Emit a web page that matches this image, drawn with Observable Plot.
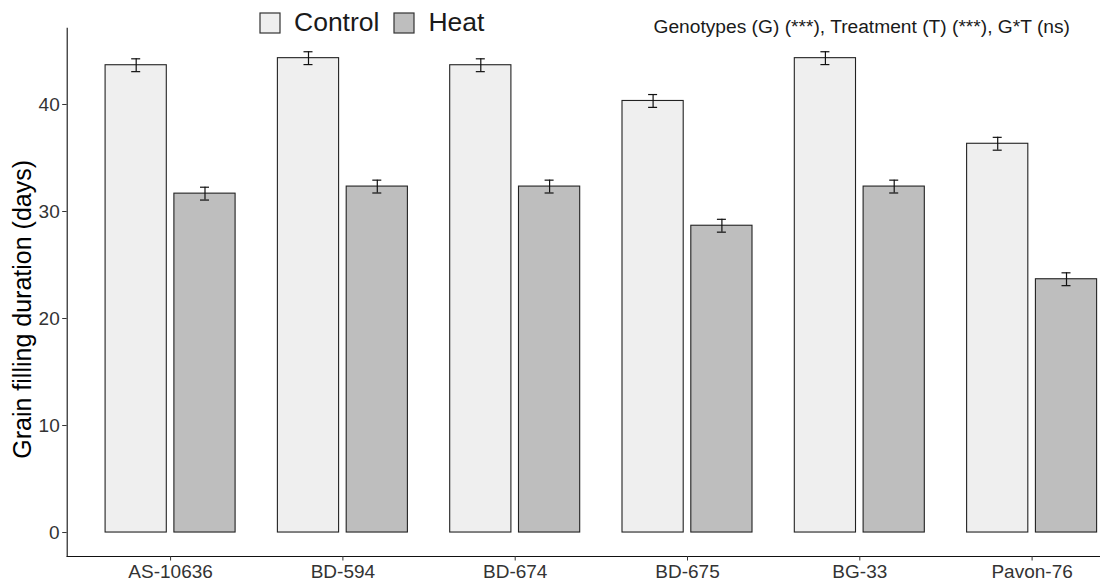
<!DOCTYPE html>
<html>
<head>
<meta charset="utf-8">
<script src="https://cdn.jsdelivr.net/npm/d3@7"></script>
<script src="https://cdn.jsdelivr.net/npm/@observablehq/plot@0.6"></script>
<style>
  html, body { margin: 0; padding: 0; background: #fff; overflow: hidden; }
  #wrap { position: relative; width: 1100px; height: 586px; font-family: "Liberation Sans", Arial, sans-serif; }
  #legend { position: absolute; left: 260px; top: 6px; }
  #note { position: absolute; right: 30px; top: 17px; font-size: 19.2px; line-height: 19px; color: #1a1a1a; white-space: nowrap; }
  .lg-swatches { font-family: "Liberation Sans", Arial, sans-serif !important; font-size: 26.5px !important; color: #1a1a1a; margin: 0 !important; }
  .lg-swatch { margin-right: 15px !important; }
  .lg-swatch > svg { margin-right: 14px !important; }
  .lg-swatch rect { stroke: #333; stroke-width: 1.2px; }
</style>
</head>
<body>
<div id="wrap">
  <div id="chart"></div>
  <div id="legend"></div>
  <div id="note">Genotypes (G) (***), Treatment (T) (***), G*T (ns)</div>
</div>
<script>
// ---- data ----
const genotypes = ["AS-10636", "BD-594", "BD-674", "BD-675", "BG-33", "Pavon-76"];
const treatments = ["Control", "Heat"];
const controlMeans = [43.67, 44.33, 43.67, 40.33, 44.33, 36.33];
const heatMeans = [31.67, 32.33, 32.33, 28.67, 32.33, 23.67];
const controlSE = [0.6, 0.6, 0.6, 0.6, 0.6, 0.6];
const heatSE = [0.6, 0.6, 0.6, 0.6, 0.6, 0.6];
const yTicks = [0, 10, 20, 30, 40];
const yLabel = "Grain filling duration (days)";

// ---- styles ----
const fills = ["#efefef", "#bebebe"];
const font = "'Liberation Sans', Arial, sans-serif";

const control = genotypes.map((g, i) => ({genotype: g, treatment: treatments[0], mean: controlMeans[i], se: controlSE[i]}));
const heat = genotypes.map((g, i) => ({genotype: g, treatment: treatments[1], mean: heatMeans[i], se: heatSE[i]}));

const band = 130, barW = 61.2, inset = band - barW, off = (band - barW) / 2, capW = 9;
const capNear = barW / 2 - capW / 2, capFar = band - barW / 2 - capW / 2;

const errMarks = (rows, dx, capL, capR) => [
  Plot.ruleX(rows, {x: "genotype", y1: d => d.mean - d.se, y2: d => d.mean + d.se, dx, stroke: "#111", strokeWidth: 1.2}),
  Plot.tickY(rows, {x: "genotype", y: d => d.mean + d.se, insetLeft: capL, insetRight: capR, stroke: "#111", strokeWidth: 1.2}),
  Plot.tickY(rows, {x: "genotype", y: d => d.mean - d.se, insetLeft: capL, insetRight: capR, stroke: "#111", strokeWidth: 1.2})
];

const chart = Plot.plot({
  width: 1100,
  height: 586,
  marginLeft: 66.7,
  marginRight: 0,
  marginTop: 27.7,
  marginBottom: 30,
  style: {fontFamily: font, background: "transparent"},
  x: {type: "band", domain: genotypes, range: [66.7, 1135], paddingInner: 0.2455, paddingOuter: 0.2228, align: 0.5, round: false, label: null},
  y: {domain: [-2.24, 47.13], label: null},
  marks: [
    Plot.barY(control, {x: "genotype", y: "mean", fill: fills[0], stroke: "#222", strokeWidth: 1.1, insetRight: inset}),
    Plot.barY(heat, {x: "genotype", y: "mean", fill: fills[1], stroke: "#222", strokeWidth: 1.1, insetLeft: inset}),
    ...errMarks(control, -off, capNear, capFar),
    ...errMarks(heat, off, capFar, capNear),
    Plot.frame({anchor: "left", stroke: "#111", strokeWidth: 1.1}),
    Plot.frame({anchor: "bottom", stroke: "#111", strokeWidth: 1.1}),
    Plot.axisY({ticks: yTicks, tickSize: 4.5, tickPadding: 3, fontSize: 19, color: "#333", label: null}),
    Plot.text([yLabel], {text: d => d, frameAnchor: "left", rotate: -90, textAnchor: "middle", lineAnchor: "top", dx: -53.5, dy: 17, fontSize: 25, fill: "#000"}),
    Plot.axisX({tickSize: 4.5, tickPadding: 3, fontSize: 19, color: "#333", label: null})
  ]
});
document.getElementById("chart").appendChild(chart);

const legend = Plot.legend({
  color: {type: "ordinal", domain: treatments, range: fills},
  swatchSize: 20,
  className: "lg"
});
document.getElementById("legend").appendChild(legend);
</script>
</body>
</html>
